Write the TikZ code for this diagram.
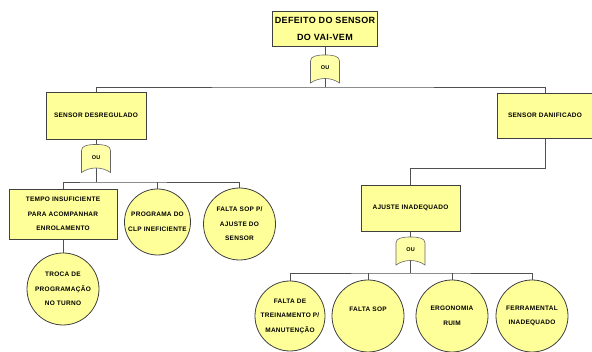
\documentclass[tikz,border=0pt]{standalone}
\usepackage{fontspec}
\setmainfont{Liberation Sans}
\newfontfamily\diagfont[LetterSpace=4]{Liberation Sans}
\usetikzlibrary{backgrounds}
\definecolor{boxyellow}{HTML}{FFFF99}
\definecolor{edgegray}{HTML}{404040}
\definecolor{wiregray}{HTML}{505050}

% porta OU: nome, x, y
\newcommand{\ougate}[3]{%
  \draw[gateshape] (#2-14.5,#3-14) -- (#2-14.5,#3+8)
    .. controls (#2-14.5,#3+13) and (#2-8,#3+14) .. (#2,#3+14)
    .. controls (#2+8,#3+14) and (#2+14.5,#3+13) .. (#2+14.5,#3+8)
    -- (#2+14.5,#3-14) .. controls (#2+6,#3-8) and (#2-6,#3-8) .. cycle;
  \node[gatetext] (#1) at (#2,#3+1) {OU};
}

\begin{document}
\begin{tikzpicture}[x=1pt,y=1pt,
    every node/.style={font={\diagfont\bfseries\fontsize{6.5}{14.5}\selectfont}, align=center, text=black},
    evento/.style={rectangle, draw=edgegray, fill=boxyellow, line width=0.8pt, inner sep=0pt},
    basico/.style={circle, draw=edgegray, fill=boxyellow, line width=0.8pt, inner sep=0pt},
    gateshape/.style={draw=edgegray!80, fill=boxyellow!85, line width=0.6pt},
    gatetext/.style={inner sep=0pt, font={\diagfont\bfseries\fontsize{5.5}{7}\selectfont}},
    fio/.style={draw=wiregray, line width=0.7pt}]
  \useasboundingbox (0,0) rectangle (592,352);

  % eventos
  \node[evento, minimum width=105pt, minimum height=35pt,
        font={\diagfont\bfseries\fontsize{9}{17}\selectfont}] (topo) at (325,323.5) {DEFEITO DO SENSOR\\DO VAI-VEM};
  \node[evento, minimum width=100pt, minimum height=47pt] (desreg) at (96,236.5) {SENSOR DESREGULADO};
  \node[evento, minimum width=96pt, minimum height=45pt] (danif) at (545,236.5) {SENSOR DANIFICADO};
  \node[evento, minimum width=108pt, minimum height=50pt] (tempo) at (63,138) {TEMPO INSUFICIENTE\\PARA ACOMPANHAR\\ENROLAMENTO};
  \node[evento, minimum width=99pt, minimum height=46pt] (ajuste) at (410.5,144) {AJUSTE INADEQUADO};

  % causas basicas
  \node[basico, minimum size=72pt] (troca) at (63,63) {TROCA DE\\PROGRAMAÇÃO\\NO TURNO};
  \node[basico, minimum size=66pt] (clp) at (157.5,130) {PROGRAMA DO\\CLP INEFICIENTE};
  \node[basico, minimum size=72pt] (semsop) at (239.5,128) {FALTA SOP P/\\AJUSTE DO\\SENSOR};
  \node[basico, minimum size=70pt] (trein) at (290,36) {FALTA DE\\TREINAMENTO P/\\MANUTENÇÃO};
  \node[basico, minimum size=72pt] (faltasop) at (368,36) {FALTA SOP\\\mbox{}};
  \node[basico, minimum size=72pt] (ergo) at (452,36) {ERGONOMIA\\RUIM};
  \node[basico, minimum size=72pt] (ferram) at (532,36) {FERRAMENTAL\\INADEQUADO};

  % portas
  \ougate{ou0}{325}{283}
  \ougate{ou1}{96}{193.5}
  \ougate{ou2}{410.5}{101}

  \begin{pgfonlayer}{background}
    \coordinate (bus0) at (325,265);
    \coordinate (bus1) at (96,170);
    \coordinate (bus2) at (410.5,79);
    \coordinate (dobra) at (410.5,184);
    \draw[fio] (topo.south) -- (bus0);
    \draw[fio] (desreg.north) |- (bus0) -| (danif.north);
    \draw[fio] (desreg.south) -- (bus1);
    \draw[fio] (tempo.north) |- (bus1) -| (semsop.north);
    \draw[fio] (clp.north) -- (clp.north |- bus1);
    \draw[fio] (tempo.south) -- (troca.north);
    \draw[fio] (danif.south) |- (dobra) -- (ajuste.north);
    \draw[fio] (ajuste.south) -- (bus2);
    \draw[fio] (trein.north) |- (bus2) -| (ferram.north);
    \draw[fio] (faltasop.north) -- (faltasop.north |- bus2);
    \draw[fio] (ergo.north) -- (ergo.north |- bus2);
  \end{pgfonlayer}
\end{tikzpicture}
\end{document}
